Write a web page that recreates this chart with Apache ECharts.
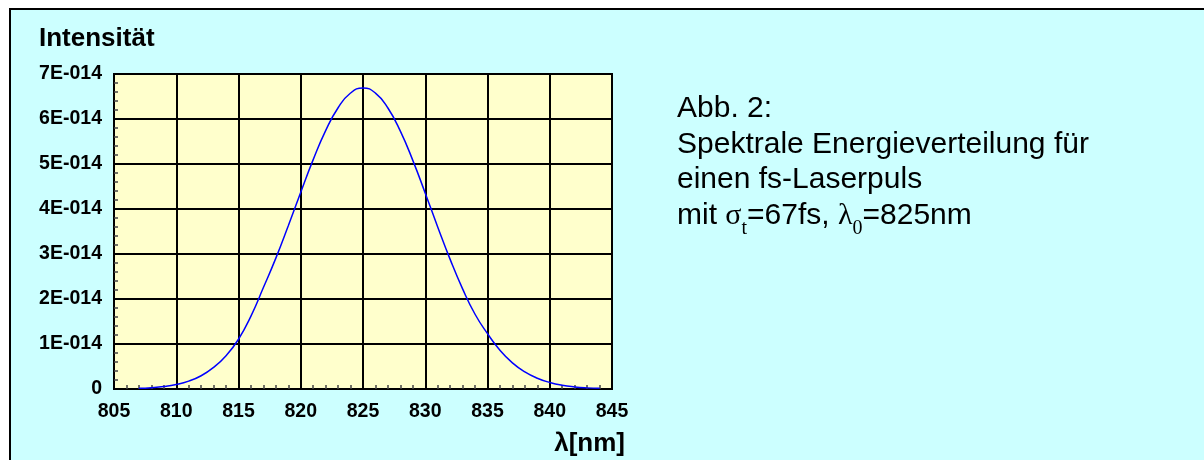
<!DOCTYPE html>
<html><head><meta charset="utf-8">
<script src="https://cdn.jsdelivr.net/npm/echarts@6/dist/echarts.min.js"></script>
<style>html,body{margin:0;padding:0;background:#fff}#c{width:1204px;height:460px}</style>
</head><body><div id="c"></div>
<script>
// wavelength in nm
const wavelength = [807,808,809,810,811,812,813,814,815,816,817,818,819,820,821,822,823,824,825,
  826,827,828,829,830,831,832,833,834,835,836,837,838,839,840,841,842,843,844];
// intensity in units of 1E-014
const intensity = [0.014,0.028,0.054,0.100,0.175,0.294,0.480,0.740,1.106,1.621,2.254,2.908,3.628,4.374,5.097,5.741,6.250,6.577,6.690,
  6.576,6.245,5.731,5.081,4.352,3.602,2.880,2.225,1.661,1.230,0.860,0.580,0.380,0.240,0.145,0.082,0.046,0.025,0.014];
const yTickLabels = ['0','1E-014','2E-014','3E-014','4E-014','5E-014','6E-014','7E-014'];
const xTickLabels = ['805','810','815','820','825','830','835','840','845'];
const yTitle = 'Intensität';
const xTitle = 'λ[nm]';
const noteLines = ['Abb. 2:', 'Spektrale Energieverteilung für', 'einen fs-Laserpuls'];
const noteLast = 'mit {g|σ}{s|t}=67fs, {g|λ}{s|0}=825nm';

const SANS = '"Liberation Sans", Arial, sans-serif';
const SERIF = '"Liberation Serif", "Times New Roman", serif';
const chart = echarts.init(document.getElementById('c'), null, {renderer: 'canvas'});

const noteEls = noteLines.map((t, i) => ({
  type: 'text', x: 677, y: 109 + i * 35.6, z: 10,
  style: {text: t, font: '30px ' + SANS, fill: '#000', verticalAlign: 'middle', align: 'left'}
}));
noteEls.push({
  type: 'text', x: 677, y: 109 + 3 * 35.6, z: 10,
  style: {
    text: noteLast, font: '30px ' + SANS, fill: '#000', verticalAlign: 'middle', align: 'left',
    lineHeight: 46,
    rich: {
      g: {fontFamily: SERIF, fontSize: 30, lineHeight: 46, fill: '#000'},
      s: {fontFamily: SERIF, fontSize: 20, lineHeight: 20, verticalAlign: 'bottom', fill: '#000'}
    }
  }
});

chart.setOption({
  backgroundColor: '#ffffff',
  animation: false,
  graphic: [
    {type: 'rect', z: -5, shape: {x: 10, y: 9, width: 1300, height: 600},
     style: {fill: '#CCFFFF', stroke: '#000', lineWidth: 2}},
    {type: 'text', x: 39, y: 38.5, z: 10,
     style: {text: yTitle, font: 'bold 26px ' + SANS, fill: '#000', verticalAlign: 'middle'}},
    {type: 'text', x: 625, y: 444, z: 10,
     style: {text: xTitle, font: 'bold 26px ' + SANS, fill: '#000', verticalAlign: 'middle', align: 'right'}}
  ].concat(noteEls),
  grid: {left: 114, right: 592, top: 74, bottom: 71, show: true,
    backgroundColor: '#FFFFCC', borderColor: '#000', borderWidth: 2},
  xAxis: {
    type: 'value', min: 805, max: 845, interval: 5,
    axisLine: {show: true, lineStyle: {color: '#000', width: 2}},
    axisTick: {show: false, inside: true},
    minorTick: {show: true, splitNumber: 5, length: 4, lineStyle: {color: '#444', width: 1.5}},
    splitLine: {show: true, lineStyle: {color: '#000', width: 2}},
    axisLabel: {margin: 13, color: '#000', fontFamily: SANS, fontWeight: 'bold', fontSize: 19.5,
      formatter: v => xTickLabels[Math.round((v - 805) / 5)]}
  },
  yAxis: {
    type: 'value', min: 0, max: 7, interval: 1,
    axisLine: {show: true, lineStyle: {color: '#000', width: 2}},
    axisTick: {show: false, inside: true},
    minorTick: {show: true, splitNumber: 5, length: 4, lineStyle: {color: '#444', width: 1.5}},
    splitLine: {show: true, lineStyle: {color: '#000', width: 2}},
    axisLabel: {margin: 12, color: '#000', fontFamily: SANS, fontWeight: 'bold', fontSize: 19.5,
      formatter: v => yTickLabels[Math.round(v)]}
  },
  series: [{
    type: 'line', data: wavelength.map((w, i) => [w, intensity[i]]),
    smooth: true, showSymbol: false, symbol: 'none',
    lineStyle: {color: '#0000FF', width: 1.5}
  }]
});
</script></body></html>
